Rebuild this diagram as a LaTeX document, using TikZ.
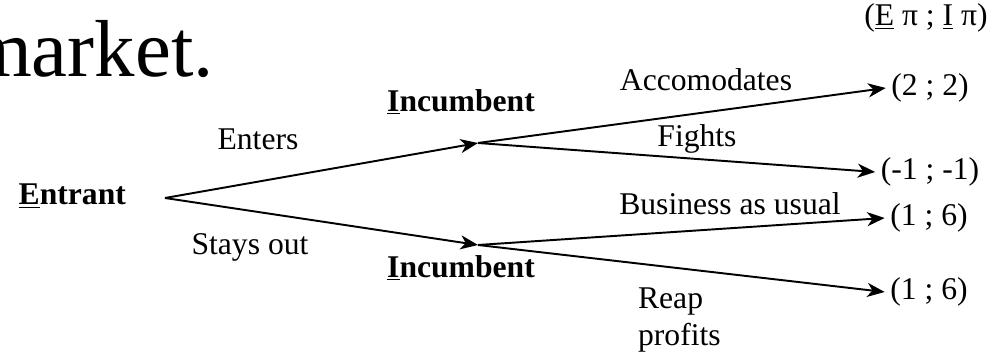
\documentclass[tikz,border=0pt]{standalone}
\usepackage{fontspec}
\setmainfont{Liberation Serif}
\usetikzlibrary{arrows.meta}
\tikzset{
  branch/.style={line width=1.1pt, -{Stealth[length=10pt,width=8pt,inset=3pt]}},
  lbl/.style={font=\fontsize{18}{21}\selectfont, inner sep=1pt},
  player/.style={font=\fontsize{18}{22}\selectfont\bfseries, inner sep=1pt},
  payoff/.style={font=\fontsize{18}{22}\selectfont, inner sep=3pt}
}
\begin{document}
\begin{tikzpicture}[x=0.02cm, y=-0.02cm]
    \useasboundingbox (0,0) rectangle (1002,357);
    \node[anchor=base east, font=\fontsize{46}{50}\selectfont, inner sep=0pt] (title) at (214,77) {market.};

    \node[player, anchor=east] (entrant) at (128,196) {\underline{E}ntrant};
    \coordinate (root) at (165,198);
    \coordinate (incA) at (478,143);
    \coordinate (incB) at (478,245);
    \node[player] (incAlbl) at (461,102) {\underline{I}ncumbent};
    \node[player] (incBlbl) at (461,268) {\underline{I}ncumbent};

    \node[payoff] (head) at (926,18) {(\underline{E} π ; \underline{I} π)};
    \node[payoff] (pA) at (930,88) {(2 ; 2)};
    \node[payoff] (pB) at (930,172) {(-1 ; -1)};
    \node[payoff] (pC) at (929,218) {(1 ; 6)};
    \node[payoff] (pD) at (929,292) {(1 ; 6)};

    \draw[branch] (root) -- (incA);
    \draw[branch] (root) -- (incB);
    \draw[branch] (incA) -- (pA.west);
    \draw[branch] (incA) -- (pB.west);
    \draw[branch] (incB) -- (pC.west);
    \draw[branch] (incB) -- (pD.west);

    \node[lbl] (enters) at (258,139) {Enters};
    \node[lbl] (stays) at (250,247) {Stays out};
    \node[lbl] (acc) at (706,80) {Accomodates};
    \node[lbl] (fights) at (697,139) {Fights};
    \node[lbl] (usual) at (730,204) {Business as usual};
    \node[lbl, align=left, anchor=north west] (reap) at (636,286) {Reap\\profits};
\end{tikzpicture}
\end{document}
